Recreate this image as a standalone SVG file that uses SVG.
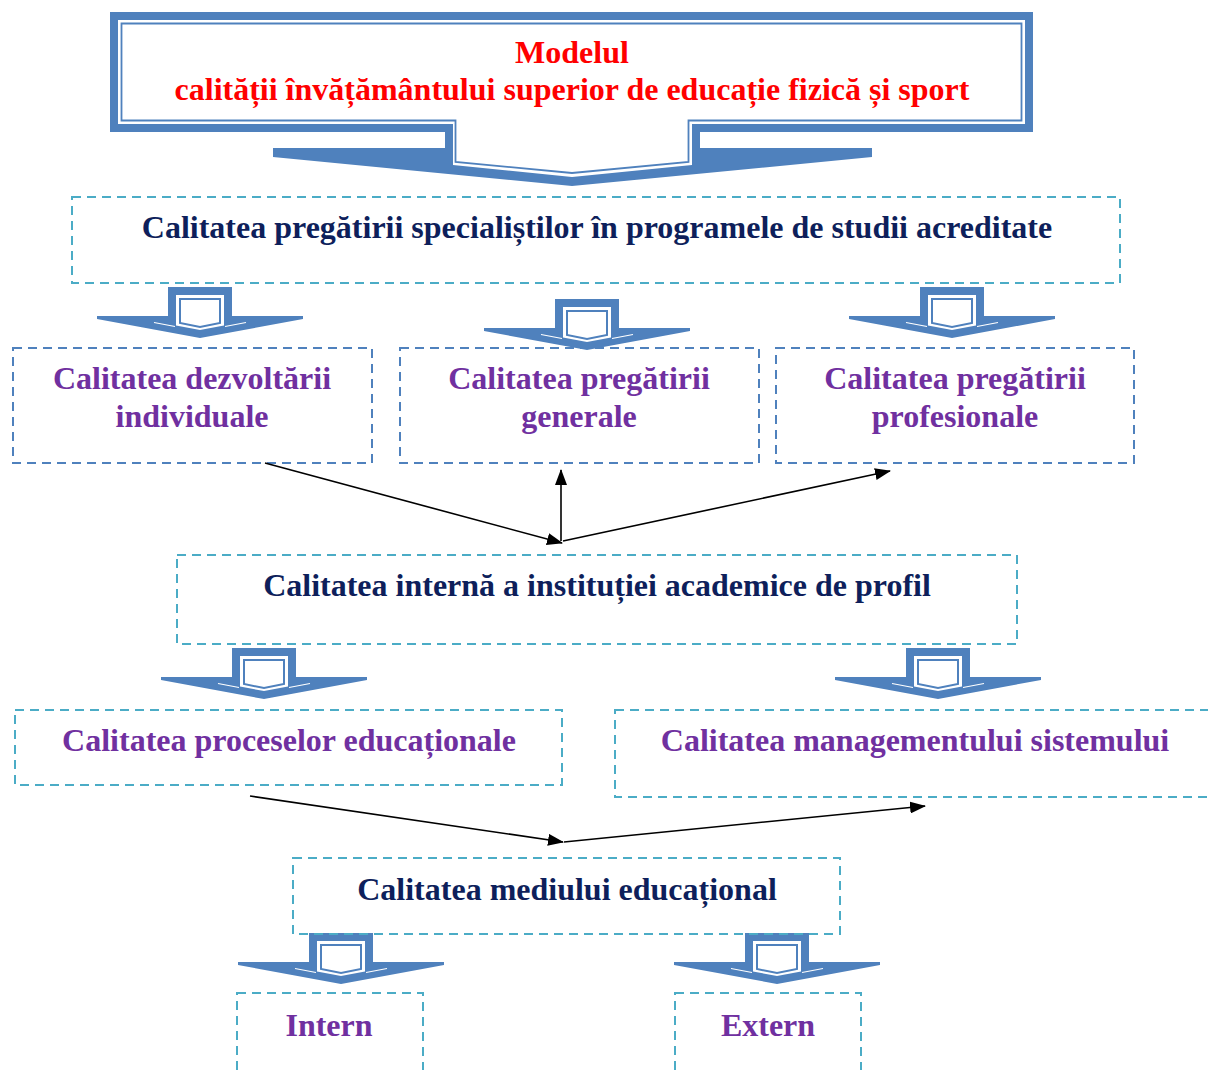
<svg xmlns="http://www.w3.org/2000/svg" xmlns:xlink="http://www.w3.org/1999/xlink" width="1208" height="1070" viewBox="0 0 1208 1070">
<style>
  .t { font-family: "Liberation Serif", "Times New Roman", serif; font-weight: bold; font-size: 32px; text-anchor: middle; }
  .red { fill: #FF0000; }
  .navy { fill: #0E1F5B; }
  .purple { fill: #7030A0; }
  .teal { fill: none; stroke: #4BACC6; stroke-width: 2; stroke-dasharray: 9 6; }
  .blue { fill: none; stroke: #4F81BD; stroke-width: 2; stroke-dasharray: 9 6; }
  .conn { stroke: #000; stroke-width: 1.6; fill: none; marker-end: url(#ah); }
</style>
<defs>
  <marker id="ah" markerUnits="userSpaceOnUse" markerWidth="16" markerHeight="12" refX="15" refY="6" orient="auto">
    <path d="M0,0 L16,6 L0,12 Z" fill="#000"/>
  </marker>
  <g id="blk">
    <path d="M-32,0 H32 V29 H103 V32 L0,51 L-103,32 V29 H-32 Z" fill="#4F81BD"/>
    <path d="M-24,8 H24 V38.5 L0,43 L-24,38.5 Z" fill="#fff"/>
    <path d="M-20,12 H20 V36 L0,40 L-20,36 Z" fill="#fff" stroke="#4F81BD" stroke-width="2"/>
    <path d="M-46,35.5 L-25,39.5 M25,39.5 L46,35.5" stroke="#fff" stroke-width="1.2" fill="none"/>
  </g>
</defs>
<rect width="1208" height="1070" fill="#fff"/>

<g id="title">
  <path d="M110,12 H1033 V132 H700 V148 H872 V157 L572,186 L273,157 V148 H445 V132 H110 Z" fill="#4F81BD"/>
  <path d="M118,20 H1025 V124 H692 V165 L572,177 L453,165 V124 H118 Z" fill="#fff"/>
  <path d="M121.5,23.5 H1021.5 V120.5 H688.5 V162 L572,173 L455.5,162 V120.5 H121.5 Z" fill="#fff" stroke="#4F81BD" stroke-width="1.8"/>
  <text class="t red" x="572" y="63">Modelul</text>
  <text class="t red" x="572" y="100">calității învățământului superior de educație fizică și sport</text>
</g>

<g id="n-specialisti">
  <rect class="teal" x="72" y="197" width="1048" height="86"/>
  <text class="t navy" x="597" y="238">Calitatea pregătirii specialiștilor în programele de studii acreditate</text>
</g>

<g id="arrows-block">
  <use xlink:href="#blk" x="200" y="287"/>
  <use xlink:href="#blk" x="587" y="299"/>
  <use xlink:href="#blk" x="952" y="287"/>
  <use xlink:href="#blk" x="264" y="648"/>
  <use xlink:href="#blk" x="938" y="648"/>
  <use xlink:href="#blk" x="341" y="933"/>
  <use xlink:href="#blk" x="777" y="933"/>
</g>

<g id="n-dezvoltare">
  <rect class="blue" x="13" y="348" width="359" height="115"/>
  <text class="t purple" x="192" y="389">Calitatea dezvoltării</text>
  <text class="t purple" x="192" y="427">individuale</text>
</g>
<g id="n-generale">
  <rect class="blue" x="400" y="348" width="359" height="115"/>
  <text class="t purple" x="579" y="389">Calitatea pregătirii</text>
  <text class="t purple" x="579" y="427">generale</text>
</g>
<g id="n-profesionale">
  <rect class="blue" x="776" y="348" width="358" height="115"/>
  <text class="t purple" x="955" y="389">Calitatea pregătirii</text>
  <text class="t purple" x="955" y="427">profesionale</text>
</g>

<g id="n-interna">
  <rect class="teal" x="177" y="555" width="840" height="89"/>
  <text class="t navy" x="597" y="596">Calitatea internă a instituției academice de profil</text>
</g>

<g id="n-procese">
  <rect class="teal" x="15" y="710" width="547" height="75"/>
  <text class="t purple" x="289" y="751">Calitatea proceselor educaționale</text>
</g>
<g id="n-management">
  <rect class="teal" x="615" y="710" width="620" height="87"/>
  <text class="t purple" x="915" y="751">Calitatea managementului sistemului</text>
</g>

<g id="n-mediu">
  <rect class="teal" x="293" y="858" width="547" height="76"/>
  <text class="t navy" x="567" y="900">Calitatea mediului educațional</text>
</g>

<g id="n-intern">
  <rect class="teal" x="237" y="993" width="186" height="100"/>
  <text class="t purple" x="329" y="1036">Intern</text>
</g>
<g id="n-extern">
  <rect class="teal" x="675" y="993" width="186" height="100"/>
  <text class="t purple" x="768" y="1036">Extern</text>
</g>

<g id="connectors">
  <line class="conn" x1="265" y1="463" x2="562" y2="543"/>
  <line class="conn" x1="561" y1="541" x2="561" y2="470"/>
  <line class="conn" x1="563" y1="541" x2="890" y2="471"/>
  <line class="conn" x1="250" y1="796" x2="563" y2="842"/>
  <line class="conn" x1="564" y1="842" x2="925" y2="806"/>
</g>
</svg>
